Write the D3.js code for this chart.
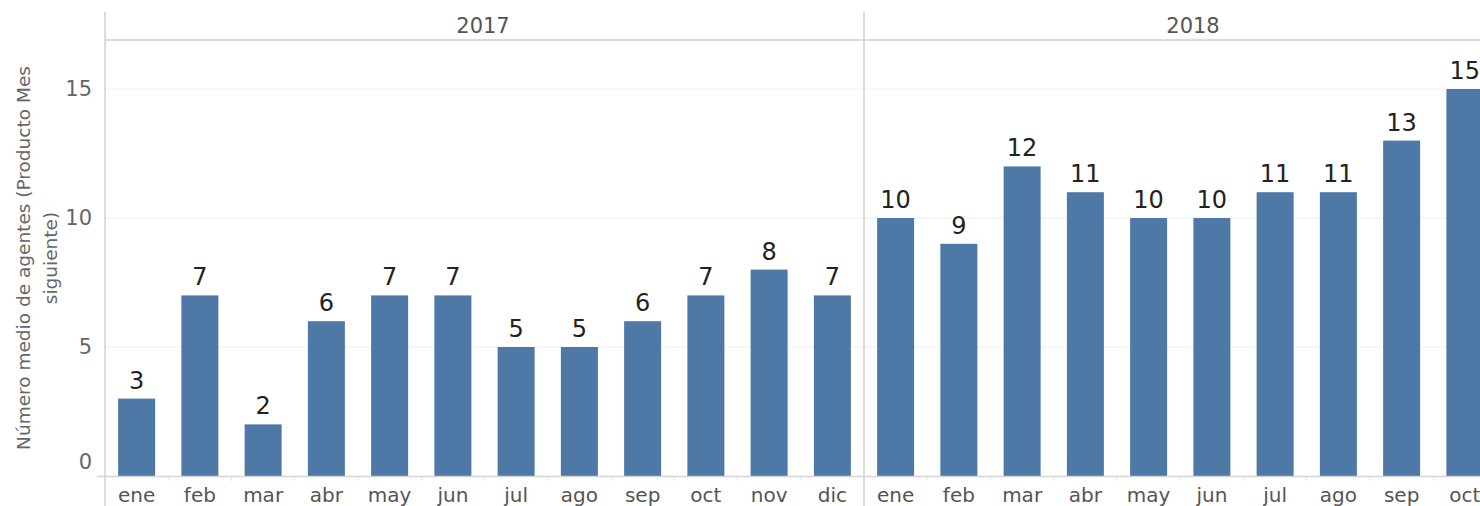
<!DOCTYPE html>
<html><head><meta charset="utf-8">
<script src="https://cdn.jsdelivr.net/npm/d3@7"></script>
<style>
body{margin:0;background:#fff;overflow:hidden}
text{font-family:"DejaVu Sans",Verdana,sans-serif}
</style></head>
<body><svg id="c" width="1480" height="506"></svg>
<script>
const years = ["2017","2018"];
const months2017 = ["ene","feb","mar","abr","may","jun","jul","ago","sep","oct","nov","dic"];
const values2017 = [3,7,2,6,7,7,5,5,6,7,8,7];
const months2018 = ["ene","feb","mar","abr","may","jun","jul","ago","sep","oct"];
const values2018 = [10,9,12,11,10,10,11,11,13,15];
const yTicks = [0,5,10,15];
const yTitle = ["Número medio de agentes (Producto Mes","siguiente)"];

(function(){
const svg = d3.select("#c");
const left = 105, topY = 40, bottom = 476, step = 63.25, divider = 864;
const y = d3.scaleLinear().domain([0,16.9]).range([bottom, topY]);

const panels = [
  {year: years[0], months: months2017, values: values2017, x0: left, n: 12, labelX: 483},
  {year: years[1], months: months2018, values: values2018, x0: divider, n: 10, labelX: 1193}
];

// gridlines
svg.append("g").selectAll("line").data(yTicks.filter(d=>d>0)).join("line")
  .attr("x1", left).attr("x2", 1480).attr("y1", d=>y(d)).attr("y2", d=>y(d))
  .attr("stroke", "#efefef").attr("stroke-width", 1);

// header line
svg.append("line").attr("x1", left).attr("x2", 1480).attr("y1", topY).attr("y2", topY)
  .attr("stroke", "#cfcfcf").attr("stroke-width", 1.5);

panels.forEach(p => {
  const x = d3.scaleBand().domain(p.months).range([p.x0, p.x0 + step*p.n])
    .paddingInner(0.415).paddingOuter(0.2075);
  const g = svg.append("g");
  g.selectAll("rect").data(p.values).join("rect")
    .attr("x", (d,i)=>x(p.months[i])).attr("width", x.bandwidth())
    .attr("y", d=>y(d)).attr("height", d=>bottom - y(d))
    .attr("fill", "#4e79a7");
  g.selectAll("text.v").data(p.values).join("text").attr("class","v")
    .attr("x", (d,i)=>x(p.months[i]) + x.bandwidth()/2)
    .attr("y", d=>y(d) - 10)
    .attr("text-anchor","middle").attr("font-size", 24).attr("fill","#222")
    .text(d=>d);
  // month labels
  g.selectAll("text.m").data(p.months).join("text").attr("class","m")
    .attr("x", d=>x(d) + x.bandwidth()/2).attr("y", 502)
    .attr("text-anchor","middle").attr("font-size", 20).attr("fill","#555")
    .text(d=>d);
  // small ticks at band boundaries
  g.selectAll("line.t").data(d3.range(1, p.n)).join("line").attr("class","t")
    .attr("x1", i=>p.x0 + i*step).attr("x2", i=>p.x0 + i*step)
    .attr("y1", bottom).attr("y2", bottom+5)
    .attr("stroke","#e6e6e6");
  // year header
  svg.append("text").attr("x", p.labelX).attr("y", 33)
    .attr("text-anchor","middle").attr("font-size", 21).attr("fill","#555")
    .text(p.year);
});

// zero axis line
svg.append("line").attr("x1", 97).attr("x2", 1480).attr("y1", bottom+0.5).attr("y2", bottom+0.5)
  .attr("stroke","#d4d4d4").attr("stroke-width",1.5);
// vertical lines
[left, divider].forEach(xv => {
  svg.append("line").attr("x1", xv).attr("x2", xv).attr("y1", 12).attr("y2", 506)
    .attr("stroke","#d0d0d0").attr("stroke-width",1.5);
});

// y axis
const ya = svg.append("g").attr("transform", `translate(${left},0)`)
  .call(d3.axisLeft(y).tickValues(yTicks).tickSize(0).tickPadding(13));
ya.select(".domain").remove();
ya.selectAll("text").attr("font-size", 21).attr("fill","#666")
  .attr("font-family","DejaVu Sans, Verdana, sans-serif")
  .attr("dy", d => d === 0 ? "-0.35em" : "0.32em");

// y title
const yt = svg.append("text").attr("transform", `translate(0,${(topY+bottom)/2}) rotate(-90)`)
  .attr("text-anchor","middle").attr("font-size", 18.5).attr("fill","#666");
yTitle.forEach((t,i) => yt.append("tspan").attr("x",0).attr("y", 30 + i*27).text(t));
})();
</script></body></html>
